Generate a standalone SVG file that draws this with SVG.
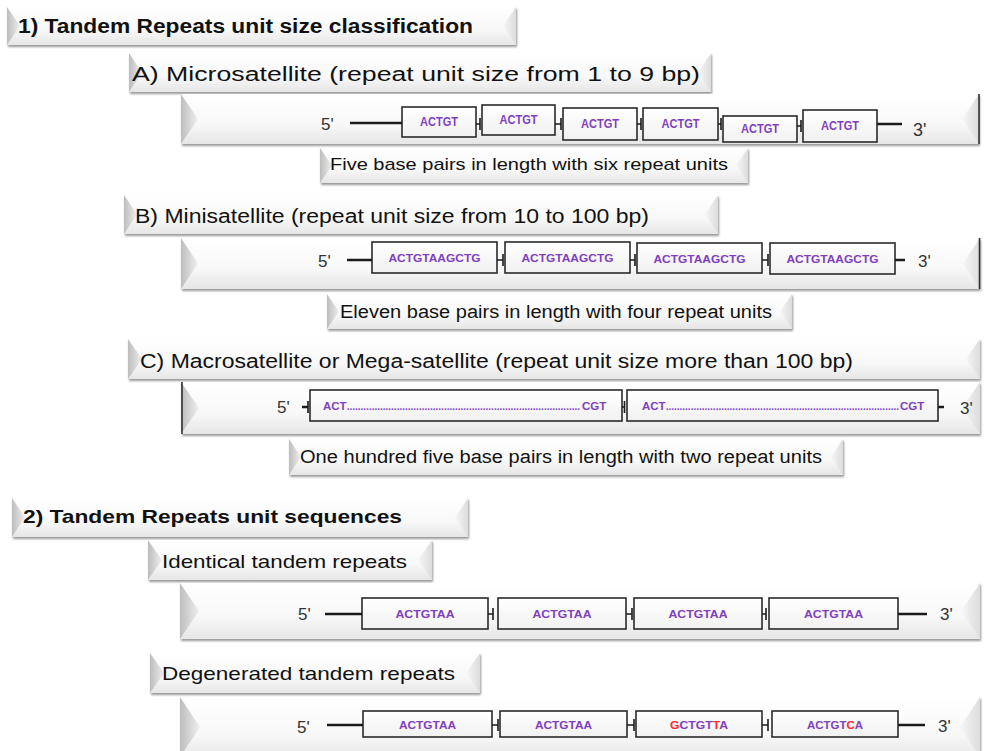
<svg xmlns="http://www.w3.org/2000/svg" width="984" height="751" viewBox="0 0 984 751">
<defs>
<linearGradient id="face" x1="0" y1="0" x2="0" y2="1"><stop offset="0" stop-color="#ffffff"/><stop offset="0.6" stop-color="#f8f8f8"/><stop offset="1" stop-color="#e6e6e6"/></linearGradient>
<linearGradient id="lf" x1="0" y1="0" x2="1" y2="0"><stop offset="0" stop-color="#bdbdbd"/><stop offset="1" stop-color="#efefef"/></linearGradient>
<linearGradient id="rf" x1="0" y1="0" x2="1" y2="0"><stop offset="0" stop-color="#f7f7f7"/><stop offset="1" stop-color="#dcdcdc"/></linearGradient>
<linearGradient id="bx" x1="0" y1="0" x2="0" y2="1"><stop offset="0" stop-color="#ffffff"/><stop offset="1" stop-color="#f1f1f1"/></linearGradient>
<filter id="sh" x="-5%" y="-20%" width="110%" height="150%"><feDropShadow dx="1" dy="2" stdDeviation="1.2" flood-color="#000" flood-opacity="0.4"/></filter>
</defs>
<style>
.face{fill:url(#face);filter:url(#sh)}
.lf{fill:url(#lf)}
.rf{fill:url(#rf)}
.dk{stroke:#333;stroke-width:1.6}
.t{font-family:"Liberation Sans",Arial,sans-serif;fill:#111}
.b{font-weight:bold}
.box{fill:url(#bx);stroke:#2a2a2a;stroke-width:1.6}
.dna{stroke:#1a1a1a;stroke-width:2.6;fill:none}
.tk{stroke:#1a1a1a;stroke-width:1.6;fill:none}
.seq{font-family:"Liberation Sans",Arial,sans-serif;font-weight:bold;fill:#7f3fbf;text-anchor:middle}
.sq{font-family:"Liberation Sans",Arial,sans-serif;font-weight:bold;fill:#7f3fbf}
.red{fill:#ff2a2a}
.end{font-family:"Liberation Sans",Arial,sans-serif;fill:#333}
</style>
<rect width="984" height="751" fill="#ffffff"/>

<g id="title1">
<rect class="face" x="7" y="7" width="509" height="38"/>
<polygon class="lf" points="7,7 20,26 7,45"/><polygon class="rf" points="516,7 503,26 516,45"/>
<text class="t b" x="18" y="33" font-size="20" textLength="455" lengthAdjust="spacingAndGlyphs">1) Tandem Repeats unit size classification</text>
</g>

<g id="microTitle">
<rect class="face" x="129" y="53" width="582" height="39"/>
<polygon class="lf" points="129,53 142,72.5 129,92"/><polygon class="rf" points="711,53 698,72.5 711,92"/>
<text class="t" x="132" y="81" font-size="20" textLength="568" lengthAdjust="spacingAndGlyphs">A) Microsatellite (repeat unit size from 1 to 9 bp)</text>
</g>

<g id="microDNA">
<rect class="face" x="181" y="94" width="798" height="50"/>
<polygon class="lf" points="181,94 198,119 181,144"/><polygon class="rf" points="979,94 962,119 979,144"/>
<line class="dk" x1="979" y1="94" x2="979" y2="144"/>
<text class="end" x="321" y="130" font-size="17">5'</text>
<text class="end" x="913" y="136" font-size="18">3'</text>
<rect class="box" x="402" y="107" width="74" height="30"/>
<rect class="box" x="482" y="105" width="73" height="30"/>
<rect class="box" x="563" y="108" width="74" height="32"/>
<rect class="box" x="643" y="108" width="75" height="32"/>
<rect class="box" x="723" y="116" width="74" height="26"/>
<rect class="box" x="803" y="110" width="74" height="32"/>
<text class="seq" x="439" y="126" font-size="12" textLength="38" lengthAdjust="spacingAndGlyphs">ACTGT</text>
<text class="seq" x="518.5" y="124" font-size="12" textLength="38" lengthAdjust="spacingAndGlyphs">ACTGT</text>
<text class="seq" x="600" y="128" font-size="12" textLength="38" lengthAdjust="spacingAndGlyphs">ACTGT</text>
<text class="seq" x="680.5" y="128" font-size="12" textLength="38" lengthAdjust="spacingAndGlyphs">ACTGT</text>
<text class="seq" x="760" y="133" font-size="12" textLength="38" lengthAdjust="spacingAndGlyphs">ACTGT</text>
<text class="seq" x="840" y="130" font-size="12" textLength="38" lengthAdjust="spacingAndGlyphs">ACTGT</text>
</g>

<g id="microCaption">
<rect class="face" x="320" y="148" width="428" height="35"/>
<polygon class="lf" points="320,148 332,165.5 320,183"/><polygon class="rf" points="748,148 736,165.5 748,183"/>
<text class="t" x="330" y="170" font-size="17" textLength="398" lengthAdjust="spacingAndGlyphs">Five base pairs in length with six repeat units</text>
</g>

<g id="miniTitle">
<rect class="face" x="124" y="195" width="594" height="39"/>
<polygon class="lf" points="124,195 137,214.5 124,234"/><polygon class="rf" points="718,195 705,214.5 718,234"/>
<text class="t" x="135" y="223" font-size="20" textLength="514" lengthAdjust="spacingAndGlyphs">B) Minisatellite (repeat unit size from 10 to 100 bp)</text>
</g>

<g id="miniDNA">
<rect class="face" x="181" y="238" width="799" height="51"/>
<polygon class="lf" points="181,238 198,263.5 181,289"/><polygon class="rf" points="980,238 963,263.5 980,289"/>
<line class="dk" x1="979.5" y1="238" x2="979.5" y2="289"/>
<text class="end" x="318" y="267" font-size="17">5'</text>
<text class="end" x="918" y="267" font-size="17">3'</text>
<rect class="box" x="372" y="242" width="125" height="31"/>
<rect class="box" x="505" y="242" width="125" height="31"/>
<rect class="box" x="637" y="243" width="125" height="30"/>
<rect class="box" x="770" y="243" width="125" height="31"/>
<text class="seq" x="434.5" y="262" font-size="11.5" textLength="92" lengthAdjust="spacingAndGlyphs">ACTGTAAGCTG</text>
<text class="seq" x="567.5" y="262" font-size="11.5" textLength="92" lengthAdjust="spacingAndGlyphs">ACTGTAAGCTG</text>
<text class="seq" x="699.5" y="263" font-size="11.5" textLength="92" lengthAdjust="spacingAndGlyphs">ACTGTAAGCTG</text>
<text class="seq" x="832.5" y="263" font-size="11.5" textLength="92" lengthAdjust="spacingAndGlyphs">ACTGTAAGCTG</text>
</g>

<g id="miniCaption">
<rect class="face" x="327" y="294" width="465" height="35"/>
<polygon class="lf" points="327,294 339,311.5 327,329"/><polygon class="rf" points="792,294 780,311.5 792,329"/>
<text class="t" x="340" y="318" font-size="18" textLength="432" lengthAdjust="spacingAndGlyphs">Eleven base pairs in length with four repeat units</text>
</g>

<g id="macroTitle">
<rect class="face" x="128" y="339" width="852" height="40"/>
<polygon class="lf" points="128,339 142,359 128,379"/><polygon class="rf" points="980,339 966,359 980,379"/>
<text class="t" x="140" y="368" font-size="20" textLength="713" lengthAdjust="spacingAndGlyphs">C) Macrosatellite or Mega-satellite (repeat unit size more than 100 bp)</text>
</g>

<g id="macroDNA">
<rect class="face" x="181" y="382" width="799" height="52"/>
<polygon class="lf" points="181,382 199,408 181,434"/><polygon class="rf" points="980,382 962,408 980,434"/>
<line class="dk" x1="182" y1="382" x2="182" y2="434"/>
<text class="end" x="277" y="413" font-size="17">5'</text>
<text class="end" x="960" y="414" font-size="17">3'</text>
<rect class="box" x="310" y="390" width="312" height="31"/>
<rect class="box" x="627" y="390" width="311" height="31"/>
<text class="sq" x="323" y="410" font-size="11.5">ACT<tspan font-size="10">....................................................................................</tspan><tspan x="582">CGT</tspan></text>
<text class="sq" x="642" y="410" font-size="11.5">ACT<tspan font-size="10">....................................................................................</tspan><tspan x="900">CGT</tspan></text>
</g>

<g id="macroCaption">
<rect class="face" x="289" y="439" width="554" height="36"/>
<polygon class="lf" points="289,439 301,457 289,475"/><polygon class="rf" points="843,439 831,457 843,475"/>
<text class="t" x="300" y="463" font-size="18" textLength="522" lengthAdjust="spacingAndGlyphs">One hundred five base pairs in length with two repeat units</text>
</g>

<g id="title2">
<rect class="face" x="12" y="498" width="456" height="39"/>
<polygon class="lf" points="12,498 25,517.5 12,537"/><polygon class="rf" points="468,498 455,517.5 468,537"/>
<text class="t b" x="23" y="523" font-size="19" textLength="379" lengthAdjust="spacingAndGlyphs">2) Tandem Repeats unit sequences</text>
</g>

<g id="identicalTitle">
<rect class="face" x="148" y="540" width="284" height="40"/>
<polygon class="lf" points="148,540 162,560 148,580"/><polygon class="rf" points="432,540 418,560 432,580"/>
<text class="t" x="162" y="568" font-size="19" textLength="245" lengthAdjust="spacingAndGlyphs">Identical tandem repeats</text>
</g>

<g id="identicalDNA">
<rect class="face" x="180" y="583" width="800" height="56"/>
<polygon class="lf" points="180,583 199,611 180,639"/><polygon class="rf" points="980,583 961,611 980,639"/>
<text class="end" x="298" y="620" font-size="17">5'</text>
<text class="end" x="940" y="620" font-size="17">3'</text>
<rect class="box" x="362" y="598" width="126" height="31"/>
<rect class="box" x="498" y="598" width="128" height="31"/>
<rect class="box" x="634" y="598" width="128" height="31"/>
<rect class="box" x="769" y="598" width="129" height="31"/>
<text class="seq" x="425" y="618" font-size="11.5" textLength="59" lengthAdjust="spacingAndGlyphs">ACTGTAA</text>
<text class="seq" x="562" y="618" font-size="11.5" textLength="59" lengthAdjust="spacingAndGlyphs">ACTGTAA</text>
<text class="seq" x="698" y="618" font-size="11.5" textLength="59" lengthAdjust="spacingAndGlyphs">ACTGTAA</text>
<text class="seq" x="833.5" y="618" font-size="11.5" textLength="59" lengthAdjust="spacingAndGlyphs">ACTGTAA</text>
</g>

<g id="degeneratedTitle">
<rect class="face" x="150" y="653" width="330" height="40"/>
<polygon class="lf" points="150,653 164,673 150,693"/><polygon class="rf" points="480,653 466,673 480,693"/>
<text class="t" x="162" y="680" font-size="19" textLength="293" lengthAdjust="spacingAndGlyphs">Degenerated tandem repeats</text>
</g>

<g id="degeneratedDNA">
<rect class="face" x="180" y="697" width="800" height="62"/>
<polygon class="lf" points="180,697 200,727 180,757"/><polygon class="rf" points="980,697 960,727 980,757"/>
<text class="end" x="297" y="733" font-size="17">5'</text>
<text class="end" x="938" y="732" font-size="17">3'</text>
<rect class="box" x="363" y="711" width="129" height="26"/>
<rect class="box" x="500" y="711" width="127" height="26"/>
<rect class="box" x="636" y="711" width="126" height="26"/>
<rect class="box" x="772" y="711" width="126" height="26"/>
<text class="seq" x="427.5" y="729" font-size="11.5" textLength="57" lengthAdjust="spacingAndGlyphs">ACTGTAA</text>
<text class="seq" x="563.5" y="729" font-size="11.5" textLength="57" lengthAdjust="spacingAndGlyphs">ACTGTAA</text>
<text class="seq" x="699" y="729" font-size="11.5" textLength="58" lengthAdjust="spacingAndGlyphs"><tspan class="red">G</tspan>CTGT<tspan class="red">T</tspan>A</text>
<text class="seq" x="835" y="729" font-size="11.5" textLength="56" lengthAdjust="spacingAndGlyphs">ACTGT<tspan class="red">C</tspan>A</text>
</g>

<g id="connectors">
<path class="dna" d="M350,123H402M877,124H902"/>
<path class="tk" d="M476,124H480M480,118V130M555,124H561M561,118V130M637,124H641M641,118V130M718,124H721M721,118V130M797,126H801M801,120V132"/>
<path class="dna" d="M347,260H372M895,260H905"/>
<path class="tk" d="M497,260H503M503,254V266M630,260H635M635,254V266M762,260H768M768,254V266"/>
<path class="dna" d="M302,407H308M938,407H944"/>
<path class="tk" d="M308,401V413M622,407H624.5M624.5,401V413"/>
<path class="dna" d="M325,614H362M898,614H927"/>
<path class="tk" d="M488,614H493M493,608V620M626,614H632M632,608V620M762,614H766M766,608V620"/>
<path class="dna" d="M327,725H363M898,725H925"/>
<path class="tk" d="M492,725H498M498,719V731M627,725H634M634,719V731M762,725H768M768,719V731"/>
</g>
</svg>
